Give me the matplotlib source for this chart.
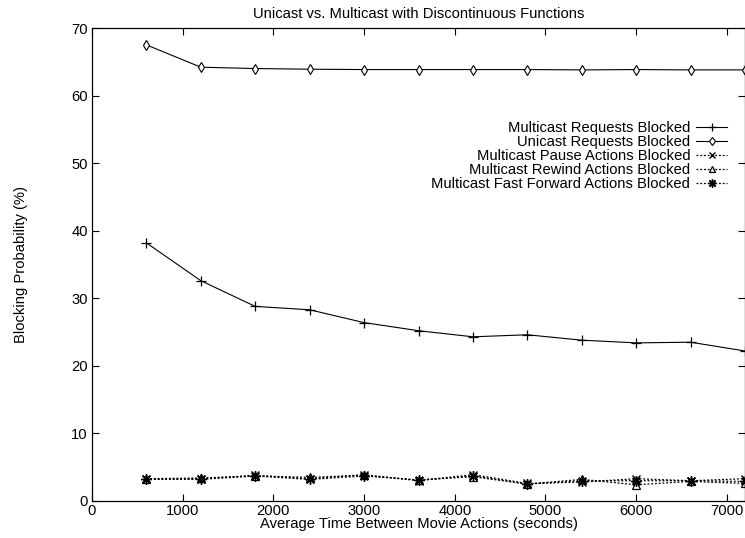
import matplotlib
matplotlib.use("Agg")
import matplotlib.pyplot as plt

plt.rcParams['font.family'] = ['Liberation Sans', 'DejaVu Sans']
plt.rcParams['font.size'] = 10.6

x = [600, 1200, 1800, 2400, 3000, 3600, 4200, 4800, 5400, 6000, 6600, 7200]
multicast_req = [38.2, 32.6, 28.8, 28.3, 26.4, 25.2, 24.3, 24.6, 23.8, 23.4, 23.5, 22.2]
unicast_req = [67.5, 64.2, 64.0, 63.9, 63.85, 63.85, 63.85, 63.85, 63.8, 63.85, 63.8, 63.8]
pause = [3.2, 3.3, 3.8, 3.3, 3.9, 3.0, 3.9, 2.6, 2.8, 3.3, 3.0, 3.3]
rewind = [3.3, 3.4, 3.7, 3.5, 3.8, 3.1, 3.6, 2.5, 3.2, 2.4, 2.9, 2.6]
ffwd = [3.2, 3.2, 3.7, 3.2, 3.7, 3.1, 3.7, 2.5, 3.0, 3.0, 3.0, 2.9]

labels = ["Multicast Requests Blocked", "Unicast Requests Blocked",
          "Multicast Pause Actions Blocked", "Multicast Rewind Actions Blocked",
          "Multicast Fast Forward Actions Blocked"]
xticks = [0, 1000, 2000, 3000, 4000, 5000, 6000, 7000]
yticks = [0, 10, 20, 30, 40, 50, 60, 70]

fig = plt.figure(figsize=(7.45, 5.38), dpi=100)
ax = fig.add_axes([92/745, 1 - 501/538, (745 - 92)/745, (501 - 28)/538])

dot = (0, (1.5, 1.5))
ax.plot(x, multicast_req, color='black', lw=0.8, marker='+', ms=7, mew=0.9, label=labels[0], clip_on=False)
ax.plot(x, unicast_req, color='black', lw=0.8, marker='d', ms=5.5, mfc='white', mew=0.8, label=labels[1], clip_on=False)
ax.plot(x, pause, color='black', lw=0.9, ls=dot, marker='x', ms=5.5, mew=1.0, label=labels[2], clip_on=False)
ax.plot(x, rewind, color='black', lw=0.9, ls=dot, marker='^', ms=5.5, mfc='white', mew=0.9, label=labels[3], clip_on=False)
ax.plot(x, ffwd, color='black', lw=0.9, ls=dot, marker=(8, 2, 0), ms=7.5, mew=1.0, label=labels[4], clip_on=False)

ax.set_xlim(0, 7200)
ax.set_ylim(0, 70)
ax.set_xticks(xticks)
ax.set_yticks(yticks)
ax.tick_params(direction='in', top=True, right=True, length=5, width=0.8, pad=3)
ax.tick_params(axis='x', pad=2)
for s in ax.spines.values():
    s.set_linewidth(0.9)

ax.set_title("Unicast vs. Multicast with Discontinuous Functions", fontsize=10.6, pad=7)
ax.set_xlabel("Average Time Between Movie Actions (seconds)", labelpad=-0.5)
ax.set_ylabel("Blocking Probability (%)", labelpad=31)

leg = ax.legend(loc='upper right', bbox_to_anchor=(0.9725, 0.804), frameon=False,
                markerfirst=False, handlelength=2.1, handletextpad=0.4,
                labelspacing=0.0, borderpad=0, borderaxespad=0, markerscale=0.8)

fig.savefig("out.png", dpi=100)
